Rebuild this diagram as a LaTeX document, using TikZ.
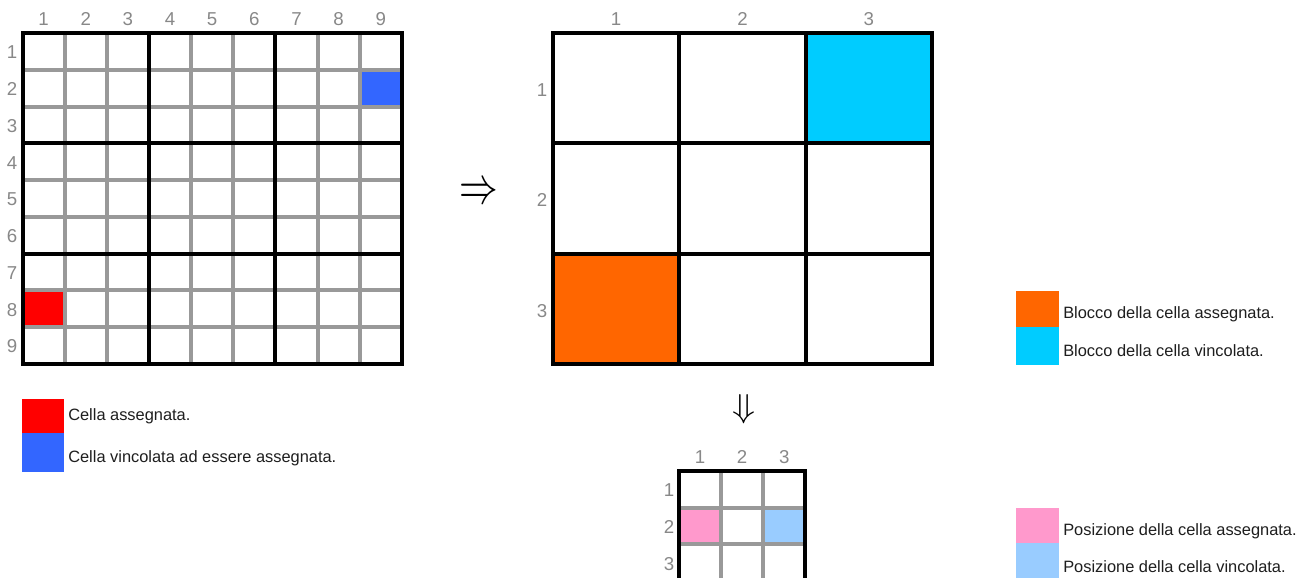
\documentclass[tikz,border=0pt]{standalone}
\usepackage{fontspec}
\setmainfont{Liberation Sans}
\usepackage{graphicx}
\definecolor{gridgray}{RGB}{153,153,153}
\definecolor{labgray}{RGB}{136,136,136}
\definecolor{txt}{RGB}{30,30,30}
\definecolor{cred}{RGB}{255,0,0}
\definecolor{cblue}{RGB}{51,102,255}
\definecolor{corange}{RGB}{255,102,0}
\definecolor{ccyan}{RGB}{0,204,255}
\definecolor{cpink}{RGB}{255,153,204}
\definecolor{clblue}{RGB}{153,204,255}
\tikzset{
  thin grid/.style={draw=gridgray, line width=3pt},
  thick grid/.style={draw=black, line width=3pt},
  lab/.style={text=labgray, font=\fontsize{14}{16}\selectfont, inner sep=0pt},
  legtext/.style={text=txt, font=\fontsize{12.3}{14}\selectfont, anchor=west, inner sep=0pt},
}
\begin{document}
\begin{tikzpicture}[x=0.75pt,y=-0.75pt]
\useasboundingbox (0,0) rectangle (1297,578);
\fill[white] (0,0) rectangle (1297,578);

% ---------- big 9x9 grid ----------
\def\bx{22.5}\def\by{33}\def\bw{42.15}\def\bh{36.75}
\fill[cblue] (\bx+8*\bw,\by+1*\bh) rectangle (\bx+9*\bw,\by+2*\bh);
\fill[cred] (\bx,\by+7*\bh) rectangle (\bx+\bw,\by+8*\bh);
\foreach \i in {1,2,4,5,7,8} {
  \draw[thin grid] (\bx+\i*\bw,\by) -- (\bx+\i*\bw,\by+9*\bh);
  \draw[thin grid] (\bx,\by+\i*\bh) -- (\bx+9*\bw,\by+\i*\bh);
}
\foreach \i in {3,6} {
  \draw[thick grid] (\bx+\i*\bw,\by) -- (\bx+\i*\bw,\by+9*\bh);
  \draw[thick grid] (\bx,\by+\i*\bh) -- (\bx+9*\bw,\by+\i*\bh);
}
\draw[thick grid] (\bx,\by) rectangle (\bx+9*\bw,\by+9*\bh);
\foreach \i in {1,...,9} {
  \node[lab] (bc\i) at (\bx+\i*\bw-0.5*\bw,19) {\i};
  \node[lab] (br\i) at (12,\by+\i*\bh-0.5*\bh+1) {\i};
}

% ---------- legend left ----------
\fill[cred] (22,399) rectangle (64,433);
\fill[cblue] (22,433) rectangle (64,472);
\node[legtext] (l1) at (68,416) {Cella assegnata.};
\node[legtext] (l2) at (68,458) {Cella vincolata ad essere assegnata.};

% ---------- arrow right ----------
\node[inner sep=0pt] (arr1) at (478.5,193.5) {\resizebox{29pt}{14.5pt}{$\Rightarrow$}};

% ---------- medium 3x3 grid ----------
\def\mx{553}\def\my{33}\def\mw{126.33}\def\mh{110.25}
\fill[ccyan] (\mx+2*\mw,\my) rectangle (\mx+3*\mw,\my+\mh);
\fill[corange] (\mx,\my+2*\mh) rectangle (\mx+\mw,\my+3*\mh);
\foreach \i in {1,2} {
  \draw[thick grid] (\mx+\i*\mw,\my) -- (\mx+\i*\mw,\my+3*\mh);
  \draw[thick grid] (\mx,\my+\i*\mh) -- (\mx+3*\mw,\my+\i*\mh);
}
\draw[thick grid] (\mx,\my) rectangle (\mx+3*\mw,\my+3*\mh);
\foreach \i in {1,2,3} {
  \node[lab] (mc\i) at (\mx+\i*\mw-0.5*\mw,19) {\i};
  \node[lab] (mr\i) at (542,\my+\i*\mh-0.5*\mh+2) {\i};
}

% ---------- arrow down ----------
\node[inner sep=0pt] (arr2) at (743.5,409.5) {\resizebox{17.25pt}{17.25pt}{$\Downarrow$}};

% ---------- small 3x3 grid ----------
\def\sx{679}\def\sy{471}\def\sw{42.1}\def\sh{36.7}
\fill[cpink] (\sx,\sy+\sh) rectangle (\sx+\sw,\sy+2*\sh);
\fill[clblue] (\sx+2*\sw,\sy+\sh) rectangle (\sx+3*\sw,\sy+2*\sh);
\foreach \i in {1,2} {
  \draw[thin grid] (\sx+\i*\sw,\sy) -- (\sx+\i*\sw,580);
  \draw[thin grid] (\sx,\sy+\i*\sh) -- (\sx+3*\sw,\sy+\i*\sh);
}
\draw[thick grid] (\sx,580) -- (\sx,\sy) -- (\sx+3*\sw,\sy) -- (\sx+3*\sw,580);
\foreach \i in {1,2,3} {
  \node[lab] (sc\i) at (\sx+\i*\sw-0.5*\sw,457) {\i};
  \node[lab] (sr\i) at (669,\sy+\i*\sh-0.5*\sh+1) {\i};
}

% ---------- legend right ----------
\fill[corange] (1016,291) rectangle (1059,327);
\fill[ccyan] (1016,327) rectangle (1059,365);
\node[legtext] (r1) at (1063,314) {Blocco della cella assegnata.};
\node[legtext] (r2) at (1063,351) {Blocco della cella vincolata.};
\fill[cpink] (1016,508) rectangle (1059,543);
\fill[clblue] (1016,543) rectangle (1059,578);
\node[legtext] (r3) at (1063,531) {Posizione della cella assegnata.};
\node[legtext] (r4) at (1063,567) {Posizione della cella vincolata.};
\end{tikzpicture}
\end{document}
